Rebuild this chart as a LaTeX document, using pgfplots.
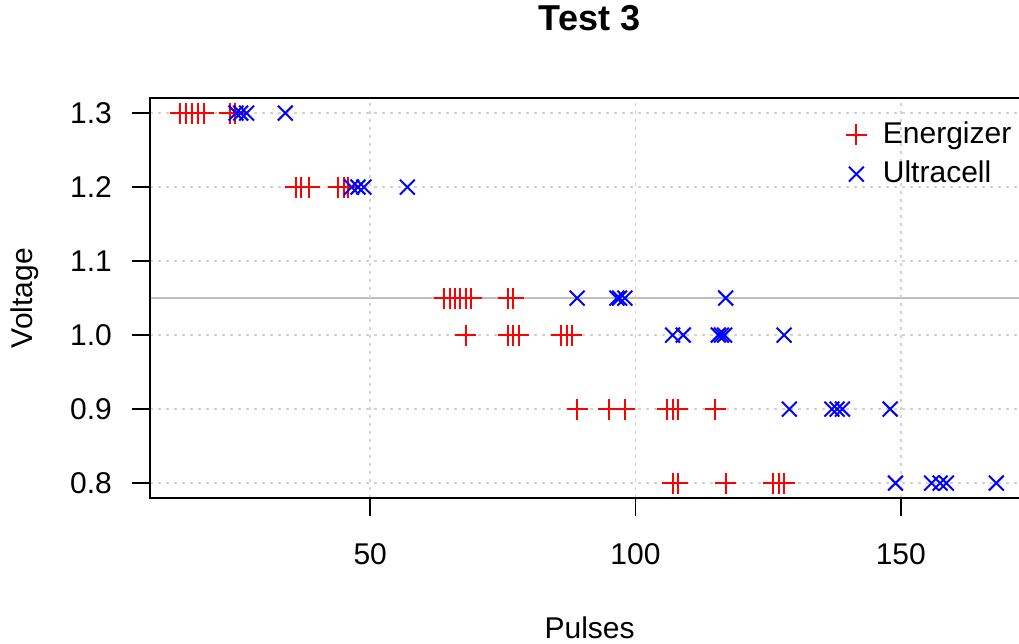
\documentclass[border=0pt]{standalone}
\usepackage{fontspec}
\setmainfont{Liberation Sans}
\usepackage{pgfplots}
\pgfplotsset{compat=1.18}
\definecolor{rred}{HTML}{FF0000}
\definecolor{rblue}{HTML}{0000FF}
\definecolor{gridgray}{HTML}{D3D3D3}
\definecolor{refgray}{HTML}{BEBEBE}
\begin{document}
\fontsize{30}{35}\selectfont
\begin{tikzpicture}
\useasboundingbox (-150pt,-146.1pt) rectangle (869pt,497.9pt);
\begin{axis}[
  at={(0,0)}, anchor=south west,
  scale only axis, width=879.2pt, height=399.6pt,
  xmin=8.5, xmax=174.2, ymin=0.78, ymax=1.32,
  xtick={50,100,150}, ytick={0.8,0.9,1.0,1.1,1.2,1.3},
  /pgf/number format/assume math mode=true,
  yticklabel style={/pgf/number format/fixed, /pgf/number format/fixed zerofill, /pgf/number format/precision=1},
  tick align=outside, major tick length=18pt,
  tick style={black, line width=1.6pt},
  xtick pos=bottom, ytick pos=left,
  axis line style={line width=1.6pt},
  grid=major,
  grid style={gridgray, line width=1.5pt, dash pattern=on 3pt off 5pt},
  axis on top,
  xticklabel style={anchor=base, inner sep=0pt, yshift=-49pt},
  yticklabel style={anchor=east, inner sep=0pt, xshift=-20pt},
  xlabel={Pulses}, ylabel={Voltage},
  xlabel style={at={(axis description cs:0.5,-0.3514)}, anchor=base, inner sep=0pt},
  ylabel style={at={(axis description cs:-0.1331,0.5)}, anchor=base, inner sep=0pt},
  title={Test 3},
  title style={font=\bfseries\fontsize{36}{40}\selectfont, at={(axis description cs:0.5,1.1559)}, anchor=base, inner sep=0pt},
  legend style={draw=none, fill=none, at={(axis description cs:0.7913,0.9417)}, anchor=north west,
    inner sep=0pt, row sep=13pt, nodes={inner sep=0pt},
    /tikz/every odd column/.append style={column sep=16pt}},
  legend cell align=left,
  legend image code/.code={\draw[#1] plot coordinates {(0pt,0pt)};},
]
\addplot[only marks, mark=+, mark size=10.5pt, line width=2pt, color=rred] coordinates {
(14.2,1.3) (15.3,1.3) (16.4,1.3) (17.5,1.3) (18.6,1.3) (23.5,1.3) (24.5,1.3)
(36,1.2) (37,1.2) (38.5,1.2) (44,1.2) (45,1.2) (45.8,1.2)
(64,1.05) (65,1.05) (66,1.05) (67,1.05) (68,1.05) (69,1.05) (76,1.05) (77,1.05)
(68,1.0) (76,1.0) (77,1.0) (78,1.0) (86,1.0) (87,1.0) (88,1.0)
(89,0.9) (95,0.9) (98,0.9) (106,0.9) (107,0.9) (108,0.9) (115,0.9)
(107,0.8) (108,0.8) (117,0.8) (126,0.8) (127,0.8) (128,0.8)
};
\addlegendentry{Energizer}
\addplot[only marks, mark=x, mark size=10.5pt, line width=2pt, color=rblue] coordinates {
(24.7,1.3) (25.6,1.3) (26.7,1.3) (34,1.3)
(46.5,1.2) (47.7,1.2) (48.8,1.2) (57,1.2)
(89,1.05) (96.5,1.05) (97,1.05) (98,1.05) (117,1.05)
(107,1.0) (109,1.0) (115.6,1.0) (116.2,1.0) (116.8,1.0) (128,1.0)
(129,0.9) (137,0.9) (138,0.9) (139,0.9) (148,0.9)
(149,0.8) (155.8,0.8) (157.4,0.8) (158.6,0.8) (168,0.8)
};
\addlegendentry{Ultracell}
\addplot[forget plot, refgray, line width=2pt] coordinates {(8.5,1.05) (174.2,1.05)};
\end{axis}
\end{tikzpicture}
\end{document}
